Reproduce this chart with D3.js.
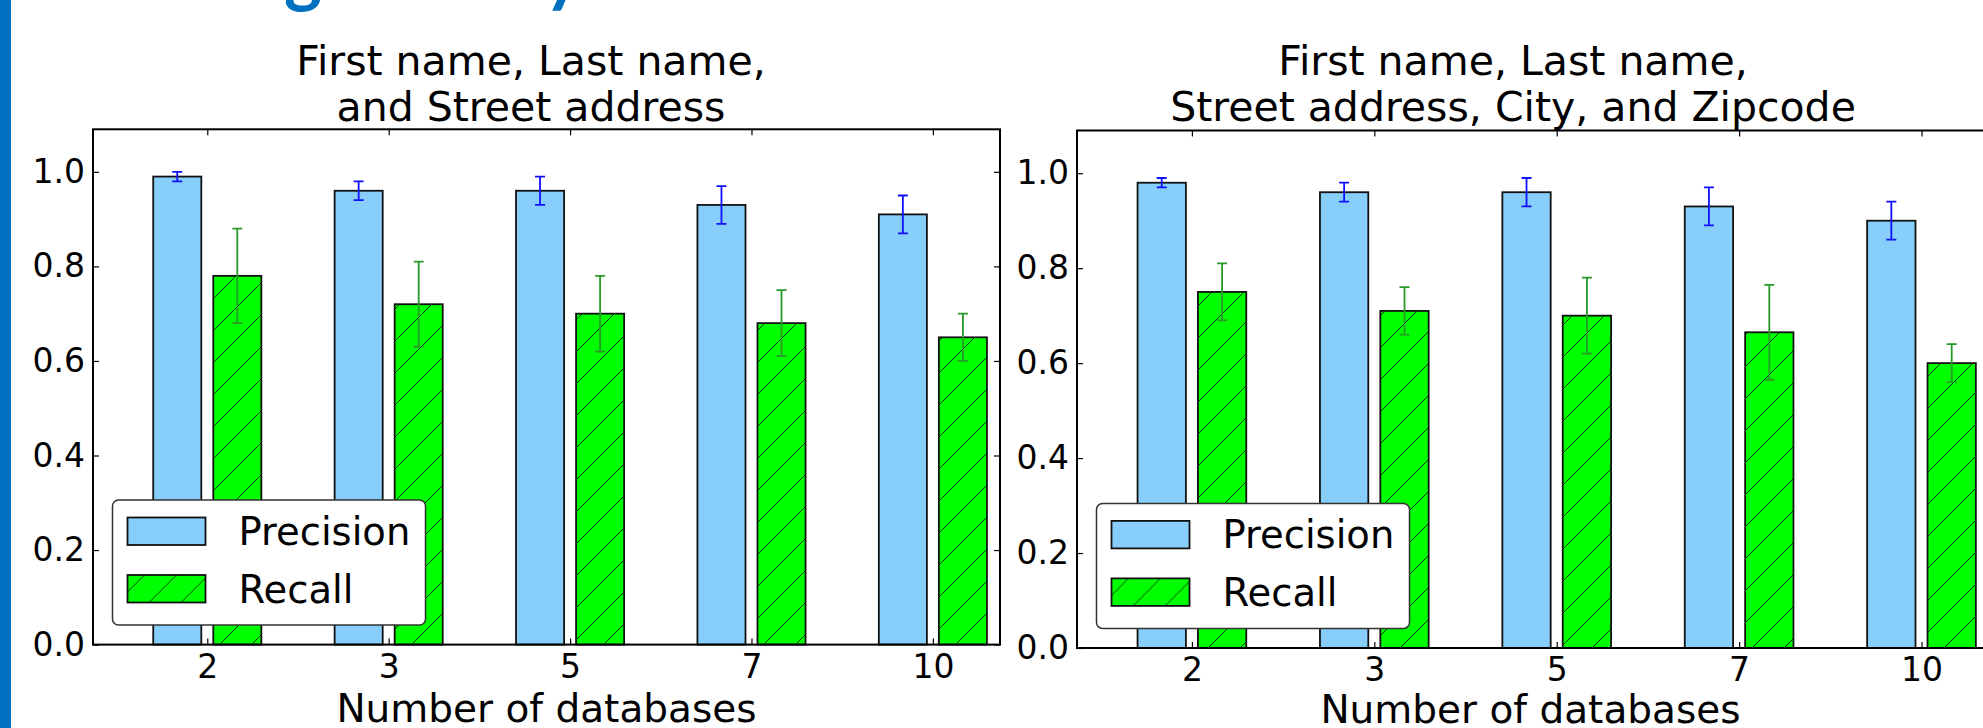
<!DOCTYPE html>
<html>
<head>
<meta charset="utf-8">
<script src="https://cdn.jsdelivr.net/npm/d3@7"></script>
<style>
  body { margin: 0; background: #fff; }
  text { font-family: "DejaVu Sans", sans-serif; }
</style>
</head>
<body>
<div id="viz"></div>
<script>
var width = 1983;
var height = 728;

// data
var categories = ['2', '3', '5', '7', '10'];
var seriesNames = ['Precision', 'Recall'];
var yTicks = [0, 0.2, 0.4, 0.6, 0.8, 1.0];
var xLabel = 'Number of databases';

var leftTitle = ['First name, Last name,', 'and Street address'];
var leftPrecision = [0.99, 0.96, 0.96, 0.93, 0.91];
var leftPrecisionErr = [0.01, 0.02, 0.03, 0.04, 0.04];
var leftRecall = [0.78, 0.72, 0.70, 0.68, 0.65];
var leftRecallErr = [0.10, 0.09, 0.08, 0.07, 0.05];

var rightTitle = ['First name, Last name,', 'Street address, City, and Zipcode'];
var rightPrecision = [0.98, 0.96, 0.96, 0.93, 0.90];
var rightPrecisionErr = [0.01, 0.02, 0.03, 0.04, 0.04];
var rightRecall = [0.75, 0.71, 0.70, 0.665, 0.60];
var rightRecallErr = [0.06, 0.05, 0.08, 0.10, 0.04];

var colors = {precision: '#87cefa', recall: '#00ff00', precErr: '#1010ff', recErr: '#279a27', slide: '#0070c0'};

var panels = [
  {left: 93, right: 1000, top: 129.3, bottom: 644.6, titleX: 531, xLabelY: 77,
   title: leftTitle, precision: leftPrecision, precisionErr: leftPrecisionErr, recall: leftRecall, recallErr: leftRecallErr},
  {left: 1077, right: 1989, top: 130.5, bottom: 648, titleX: 1513, xLabelY: 75,
   title: rightTitle, precision: rightPrecision, precisionErr: rightPrecisionErr, recall: rightRecall, recallErr: rightRecallErr}
];

var svg = d3.select('#viz').append('svg')
  .attr('width', width)
  .attr('height', height)
  .style('display', 'block');

var defs = svg.append('defs');
var hatch = defs.append('pattern')
  .attr('id', 'hatch')
  .attr('patternUnits', 'userSpaceOnUse')
  .attr('width', 32)
  .attr('height', 32);
hatch.append('rect').attr('width', 32).attr('height', 32).attr('fill', colors.recall);
hatch.append('path')
  .attr('d', 'M0,32 L32,0 M-8,8 L8,-8 M24,40 L40,24')
  .attr('stroke', '#000')
  .attr('stroke-opacity', 0.75)
  .attr('stroke-width', 1);

// slide decorations
svg.append('rect').attr('x', 0).attr('y', 0).attr('width', 11).attr('height', height).attr('fill', colors.slide);
svg.append('text').attr('x', 284).attr('y', -2).attr('font-size', 72).attr('font-weight', 'bold')
  .style('font-family', 'Lato').attr('fill', colors.slide).text('g');
svg.append('text').attr('x', 544).attr('y', -2).attr('font-size', 72).attr('font-weight', 'bold')
  .style('font-family', 'Lato').attr('fill', colors.slide).text('y');

var barW = 0.265;
var barGap = 0.033;

function drawPanel(p) {
  var x = d3.scaleLinear().domain([-0.63, 4.37]).range([p.left, p.right]);
  var y = d3.scaleLinear().domain([0, 1.09]).range([p.bottom, p.top]);
  var g = svg.append('g');
  var idx = d3.range(categories.length);

  // precision bars
  g.append('g').selectAll('rect').data(idx).enter().append('rect')
    .attr('x', function(i) { return x(i - barGap - barW); })
    .attr('y', function(i) { return y(p.precision[i]); })
    .attr('width', function(i) { return x(i - barGap) - x(i - barGap - barW); })
    .attr('height', function(i) { return y(0) - y(p.precision[i]); })
    .attr('fill', colors.precision)
    .attr('stroke', '#111')
    .attr('stroke-width', 1.8);

  // recall bars
  g.append('g').selectAll('rect').data(idx).enter().append('rect')
    .attr('x', function(i) { return x(i + barGap); })
    .attr('y', function(i) { return y(p.recall[i]); })
    .attr('width', function(i) { return x(i + barGap + barW) - x(i + barGap); })
    .attr('height', function(i) { return y(0) - y(p.recall[i]); })
    .attr('fill', 'url(#hatch)')
    .attr('stroke', '#111')
    .attr('stroke-width', 1.8);

  // error bars
  function errBars(vals, errs, offset, color) {
    var eg = g.append('g').attr('stroke', color).attr('stroke-width', 1.8).attr('fill', 'none');
    eg.selectAll('path').data(idx).enter().append('path')
      .attr('d', function(i) {
        var cx = x(i + offset);
        var hi = y(vals[i] + errs[i]);
        var lo = y(vals[i] - errs[i]);
        return 'M' + cx + ',' + hi + 'V' + lo +
               'M' + (cx - 5) + ',' + hi + 'H' + (cx + 5) +
               'M' + (cx - 5) + ',' + lo + 'H' + (cx + 5);
      });
  }
  errBars(p.precision, p.precisionErr, -barGap - barW / 2, colors.precErr);
  errBars(p.recall, p.recallErr, barGap + barW / 2, colors.recErr);

  // axes, ticks pointing inward on all sides
  var yAxisL = g.append('g').attr('transform', 'translate(' + p.left + ',0)')
    .call(d3.axisLeft(y).tickValues(yTicks).tickFormat(d3.format('.1f')).tickSizeInner(-6).tickSizeOuter(0).tickPadding(8));
  var yAxisR = g.append('g').attr('transform', 'translate(' + p.right + ',0)')
    .call(d3.axisRight(y).tickValues(yTicks).tickFormat('').tickSizeInner(-6).tickSizeOuter(0));
  var xAxisB = g.append('g').attr('transform', 'translate(0,' + p.bottom + ')')
    .call(d3.axisBottom(x).tickValues(idx).tickFormat(function(i) { return categories[i]; }).tickSizeInner(-6).tickSizeOuter(0).tickPadding(10));
  var xAxisT = g.append('g').attr('transform', 'translate(0,' + p.top + ')')
    .call(d3.axisTop(x).tickValues(idx).tickFormat('').tickSizeInner(-6).tickSizeOuter(0));

  [yAxisL, yAxisR, xAxisB, xAxisT].forEach(function(a) {
    a.select('.domain').remove();
    a.attr('font-family', null).attr('font-size', 33);
    a.selectAll('line').attr('stroke', '#000').attr('stroke-width', 1.2);
    a.selectAll('text').attr('fill', '#000');
  });

  g.append('rect')
    .attr('x', p.left).attr('y', p.top)
    .attr('width', p.right - p.left).attr('height', p.bottom - p.top)
    .attr('fill', 'none').attr('stroke', '#000').attr('stroke-width', 2);

  // title
  g.append('g').selectAll('text').data(p.title).enter().append('text')
    .attr('x', p.titleX)
    .attr('y', function(d, i) { return 75 + i * 45.5; })
    .attr('text-anchor', 'middle')
    .attr('font-size', 41)
    .text(function(d) { return d; });

  // x label
  g.append('text')
    .attr('x', p.left + 453.5)
    .attr('y', p.bottom + p.xLabelY)
    .attr('text-anchor', 'middle')
    .attr('font-size', 39)
    .text(xLabel);

  // legend
  var lg = g.append('g').attr('transform', 'translate(' + (p.left + 19.5) + ',' + (p.bottom - 19.6 - 125) + ')');
  lg.append('rect').attr('width', 313).attr('height', 125).attr('rx', 6)
    .attr('fill', '#fff').attr('stroke', '#333').attr('stroke-width', 1.5);
  var fills = [colors.precision, 'url(#hatch)'];
  var items = lg.selectAll('g.item').data(seriesNames).enter().append('g')
    .attr('class', 'item')
    .attr('transform', function(d, i) { return 'translate(0,' + (17.5 + i * 57.5) + ')'; });
  items.append('rect')
    .attr('x', 15).attr('width', 78).attr('height', 27.5)
    .attr('fill', function(d, i) { return fills[i]; })
    .attr('stroke', '#111').attr('stroke-width', 1.8);
  items.append('text')
    .attr('x', 126).attr('y', 27.5)
    .attr('font-size', 38.5)
    .text(function(d) { return d; });
}

panels.forEach(drawPanel);
</script>
</body>
</html>
